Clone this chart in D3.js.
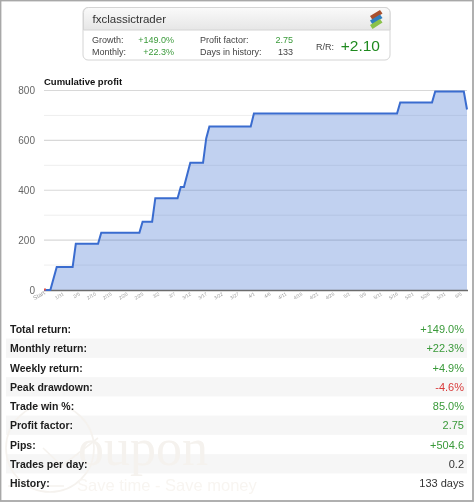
<!DOCTYPE html>
<html><head><meta charset="utf-8">
<script src="https://cdnjs.cloudflare.com/ajax/libs/d3/7.8.5/d3.min.js"></script>
<style>html,body{margin:0;padding:0;background:#fff}svg{display:block;filter:blur(.3px)}text{font-family:"Liberation Sans",Arial,sans-serif}</style>
</head><body><div id="c"></div>
<script>
const days=[0,2,4,9,10,17,18,30,31,34,35,42,43,44,46,50,51,52,65,66,111,112,122,123,132,133];
const profit=[0,0,92,92,185,185,230,230,274,274,368,368,413,413,510,510,608,656,656,708,708,752,752,796,796,724];
const yTicks=[0,200,400,600,800];
const yMinor=[100,300,500,700];
const xTickDays=[0,5,10,15,20,25,30,35,40,45,50,55,60,65,70,75,80,85,90,95,100,105,110,115,120,125,130];
const xTickLabels=["Start","1/31","2/5","2/10","2/15","2/20","2/25","3/2","3/7","3/12","3/17","3/22","3/27","4/1","4/6","4/11","4/16","4/21","4/26","5/1","5/6","5/11","5/16","5/21","5/26","5/31","6/5"];
const statLabels=["Total return:","Monthly return:","Weekly return:","Peak drawdown:","Trade win %:","Profit factor:","Pips:","Trades per day:","History:"];
const statValues=["+149.0%","+22.3%","+4.9%","-4.6%","85.0%","2.75","+504.6","0.2","133 days"];
const statColors=["#3a9a3a","#3a9a3a","#3a9a3a","#d93a3a","#3a9a3a","#3a9a3a","#3a9a3a","#333","#333"];

const W=474,H=502;
const svg=d3.select("#c").append("svg").attr("width",W).attr("height",H);
const defs=svg.append("defs");
const g=defs.append("linearGradient").attr("id","hd").attr("x1",0).attr("x2",0).attr("y1",0).attr("y2",1);
g.append("stop").attr("offset",0).attr("stop-color","#fafafa");
g.append("stop").attr("offset",1).attr("stop-color","#e6e6e6");

// frame
svg.append("rect").attr("x",.5).attr("y",.5).attr("width",472.5).attr("height",500.5).attr("fill","#fff").attr("stroke","#a8a8a8").attr("stroke-width",1.8);

// watermark
const wm=svg.append("g");
wm.append("circle").attr("cx",50).attr("cy",448).attr("r",44).attr("fill","none").attr("stroke","#f5f2ee").attr("stroke-width",1.6);
wm.append("path").attr("d",d3.line()([[43,448],[62,466],[98,438]])).attr("fill","none").attr("stroke","#f5f2ee").attr("stroke-width",1.6);
wm.append("line").attr("x1",8).attr("x2",64).attr("y1",486).attr("y2",486).attr("stroke","#f5f2ee").attr("stroke-width",1.6);

// card
const card=svg.append("g");
card.append("rect").attr("x",83).attr("y",7.5).attr("width",307).attr("height",52.5).attr("rx",5).attr("fill","#fff").attr("stroke","#d4d4d4");
card.append("path").attr("d","M83.5 30V12.5a5 5 0 0 1 5-5H385a5 5 0 0 1 5 5V30Z").attr("fill","url(#hd)").attr("stroke","#d4d4d4");
const t=(x,y,s,size,fill,anchor,weight,par)=>(par||svg).append("text").attr("x",x).attr("y",y).attr("font-size",size).attr("fill",fill).attr("text-anchor",anchor||"start").attr("font-weight",weight||"normal").text(s);
t(92.5,22.5,"fxclassictrader",11.5,"#333");
t(92,42.5,"Growth:",9,"#444");
t(92,55,"Monthly:",9,"#444");
t(174,42.5,"+149.0%",9,"#3a9a3a","end");
t(174,55,"+22.3%",9,"#3a9a3a","end");
t(200,42.5,"Profit factor:",9,"#444");
t(200,55,"Days in history:",9,"#444");
t(293,42.5,"2.75",9,"#3a9a3a","end");
t(293,55,"133",9,"#444","end");
t(316,50,"R/R:",9,"#444");
t(380,50.5,"+2.10",15.5,"#1f8a1f","end");
// logo
[["#a9502e",0],["#2f7fc0",4.5],["#8ac24a",9]].forEach(([c,dy])=>{
  card.append("path").attr("d",`M370 ${16+dy}l10 -6l2.5 3.5l-10 6.5Z`).attr("fill",c);
});

// chart
const x=d3.scaleLinear().domain([0,133]).range([44,467]);
const y=d3.scaleLinear().domain([0,800]).range([290,90.5]);
t(44,85,"Cumulative profit",9.5,"#111","start","bold");
const gm=svg.append("g");
gm.selectAll("line.minor").data(yMinor).join("line").attr("x1",x(0)).attr("x2",x(133)).attr("y1",d=>y(d)).attr("y2",d=>y(d)).attr("stroke","#eeeeee");
gm.selectAll("line.major").data(yTicks.slice(1)).join("line").attr("x1",x(0)).attr("x2",x(133)).attr("y1",d=>y(d)).attr("y2",d=>y(d)).attr("stroke","#d8d8d8").attr("stroke-width",1.2);

const pts=days.map((d,i)=>[d,profit[i]]);
svg.append("path").datum(pts).attr("d",d3.area().x(d=>x(d[0])).y0(y(0)).y1(d=>y(d[1]))).attr("fill","#3366cc").attr("fill-opacity",.3);
svg.append("line").attr("x1",x(0)).attr("x2",x(133)+1).attr("y1",y(0)+.5).attr("y2",y(0)+.5).attr("stroke","#6b6b6b").attr("stroke-width",1.6);
svg.append("path").datum(pts).attr("d",d3.line().x(d=>x(d[0])).y(d=>y(d[1]))).attr("fill","none").attr("stroke","#3a6ccf").attr("stroke-width",2);
svg.append("rect").attr("x",x(0)).attr("y",y(0)-1.5).attr("width",2).attr("height",2).attr("fill","#d9534f");

const ya=svg.append("g").attr("transform",`translate(${x(0)},0)`).call(d3.axisLeft(y).tickValues(yTicks).tickSize(0).tickPadding(9));
ya.select(".domain").remove();
ya.selectAll("text").attr("font-size",10).attr("fill","#666").style("font-family",'"Liberation Sans",Arial,sans-serif');

const xa=svg.append("g").attr("transform",`translate(0,${y(0)})`).call(d3.axisBottom(x).tickValues(xTickDays).tickFormat((d,i)=>xTickLabels[i]).tickSize(0));
xa.select(".domain").remove();
xa.selectAll("text").attr("font-size",d=>d?4.8:6).attr("fill","#9a9a9a").attr("text-anchor","end").attr("dy",0)
  .attr("transform",(d,i)=>`translate(${i?4:1},${i?5:4}) rotate(-30)`)
  .attr("y",0).attr("x",0).style("font-family",'"Liberation Sans",Arial,sans-serif');

// stats
const rowY=i=>329+i*19.25;
const rows=svg.append("g");
rows.selectAll("rect").data(statLabels.map((_,i)=>i).filter(i=>i%2==1)).join("rect")
  .attr("x",6).attr("width",461).attr("y",i=>rowY(i)-9.6).attr("height",19.25).attr("fill","#f5f5f5").attr("fill-opacity",.85);
// watermark text above row shading
t(78,465,"oupon",52,"#f5f2ee","start","normal",wm.raise()).style("font-family",'"Liberation Serif",serif');
t(77,491,"Save time - Save money",16.5,"#f8f5f1","start","normal",wm).style("font-family",'"Liberation Sans",sans-serif');
statLabels.forEach((s,i)=>{
  t(10,rowY(i)+4,s,10.5,"#1c1c1c","start","bold");
  t(464,rowY(i)+4,statValues[i],11,statColors[i],"end");
});
</script></body></html>
